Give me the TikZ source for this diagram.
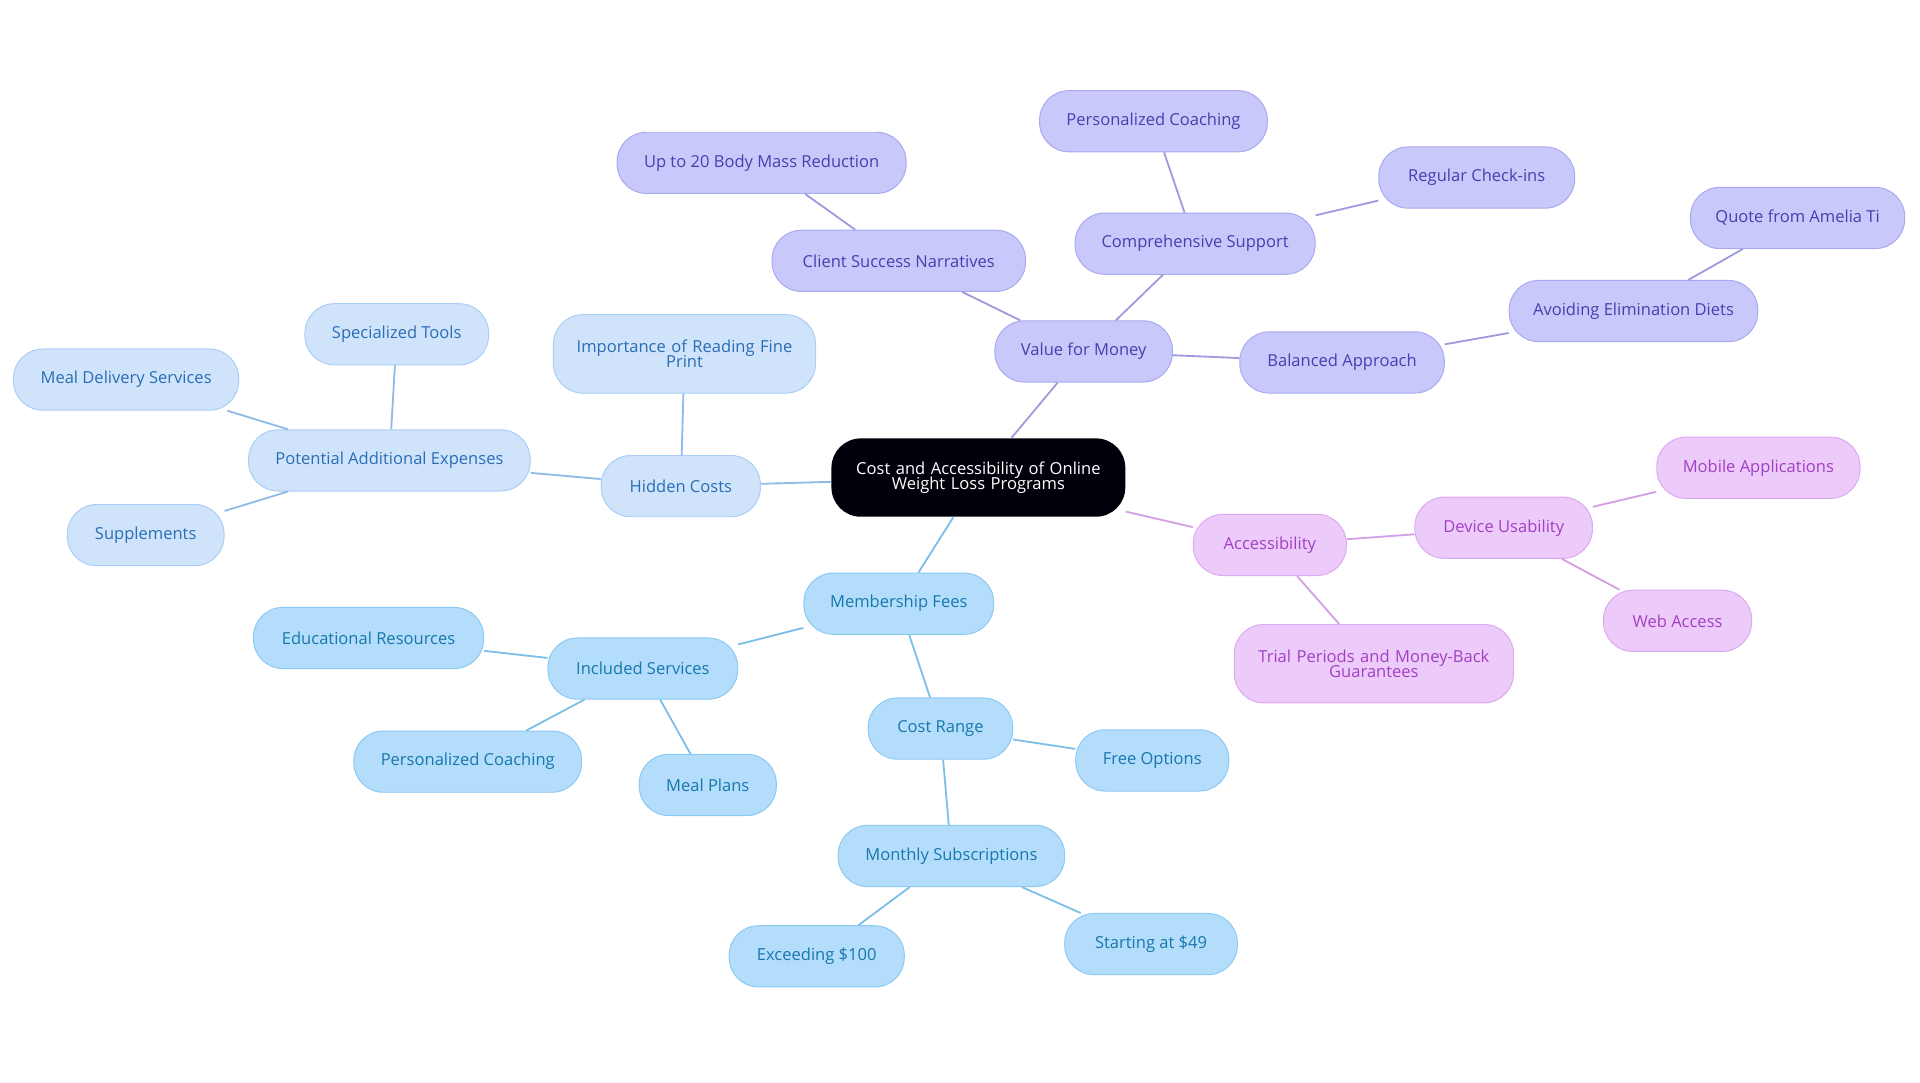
\documentclass[tikz,border=0pt]{standalone}
\usepackage{fontspec}
\setmainfont{Open Sans}
\begin{document}
\begin{tikzpicture}[x=1pt,y=-1pt,
 base/.style={rounded corners=24pt,minimum height=50pt,inner sep=0pt,align=center,font=\fontsize{13.5}{14}\selectfont,draw,line width=0.8pt},
 lb/.style={base,fill=lbF,draw=lbD,text=lbT},
 mb/.style={base,fill=mbF,draw=mbD,text=mbT},
 pu/.style={base,fill=puF,draw=puD,text=puT},
 pk/.style={base,fill=pkF,draw=pkD,text=pkT},
 elb/.style={draw=lbE,line width=1.5pt},
 emb/.style={draw=mbE,line width=1.5pt},
 epu/.style={draw=puE,line width=1.5pt},
 epk/.style={draw=pkE,line width=1.5pt}]
\definecolor{lbF}{HTML}{CFE4FB}\definecolor{lbD}{HTML}{A9CDF5}\definecolor{lbT}{HTML}{2A6DB5}\definecolor{lbE}{HTML}{8EBCE6}
\definecolor{mbF}{HTML}{B3DDFA}\definecolor{mbD}{HTML}{8CC9F3}\definecolor{mbT}{HTML}{1877AE}\definecolor{mbE}{HTML}{7DBFE6}
\definecolor{puF}{HTML}{C8C8FA}\definecolor{puD}{HTML}{A9A9F0}\definecolor{puT}{HTML}{4A3EAF}\definecolor{puE}{HTML}{A09ADF}
\definecolor{pkF}{HTML}{ECCBFA}\definecolor{pkD}{HTML}{DBA9F0}\definecolor{pkT}{HTML}{A33FC2}\definecolor{pkE}{HTML}{D3A0E6}
\useasboundingbox (0,0) rectangle (1568,884);
\node[base,fill=black!90!blue!40!black,draw=none,text=white,minimum width=240pt,minimum height=64pt,text width=220pt] (c) at (799,390) {Cost and Accessibility of Online\\[-2pt]Weight Loss Programs};
% hidden costs
\node[lb,minimum width=130pt] (hc) at (556,397) {Hidden Costs};
\node[lb,minimum width=214pt,minimum height=64pt,text width=200pt] (fp) at (559,289) {Importance of Reading Fine\\[-2pt]Print};
\node[lb,minimum width=230pt] (pa) at (318,376) {Potential Additional Expenses};
\node[lb,minimum width=150pt] (st) at (324,273) {Specialized Tools};
\node[lb,minimum width=184pt] (md) at (103,310) {Meal Delivery Services};
\node[lb,minimum width=128pt] (su) at (119,437) {Supplements};
% membership
\node[mb,minimum width=155pt] (mf) at (734,493) {Membership Fees};
\node[mb,minimum width=155pt] (is) at (525,546) {Included Services};
\node[mb,minimum width=188pt] (er) at (301,521) {Educational Resources};
\node[mb,minimum width=186pt] (pc) at (382,622) {Personalized Coaching};
\node[mb,minimum width=112pt] (mp) at (578,641) {Meal Plans};
\node[mb,minimum width=118pt] (cr) at (768,595) {Cost Range};
\node[mb,minimum width=125pt] (fo) at (941,621) {Free Options};
\node[mb,minimum width=185pt] (ms) at (777,699) {Monthly Subscriptions};
\node[mb,minimum width=143pt] (ex) at (667,781) {Exceeding \$100};
\node[mb,minimum width=141pt] (sa) at (940,771) {Starting at \$49};
% value
\node[pu,minimum width=145pt] (vm) at (885,287) {Value for Money};
\node[pu,minimum width=207pt] (cs) at (734,213) {Client Success Narratives};
\node[pu,minimum width=236pt] (ub) at (622,133) {Up to 20 Body Mass Reduction};
\node[pu,minimum width=196pt] (co) at (976,199) {Comprehensive Support};
\node[pu,minimum width=186pt] (pc2) at (942,99) {Personalized Coaching};
\node[pu,minimum width=160pt] (rc) at (1206,145) {Regular Check-ins};
\node[pu,minimum width=167pt] (ba) at (1096,296) {Balanced Approach};
\node[pu,minimum width=203pt] (ae) at (1334,254) {Avoiding Elimination Diets};
\node[pu,minimum width=175pt] (qa) at (1468,178) {Quote from Amelia Ti};
% access
\node[pk,minimum width=125pt] (ac) at (1037,445) {Accessibility};
\node[pk,minimum width=145pt] (du) at (1228,431) {Device Usability};
\node[pk,minimum width=166pt] (ma) at (1436,382) {Mobile Applications};
\node[pk,minimum width=121pt] (wa) at (1370,507) {Web Access};
\node[pk,minimum width=228pt,minimum height=64pt,text width=215pt] (tp) at (1122,542) {Trial Periods and Money-Back\\[-2pt]Guarantees};
\begin{scope}[on background layer/.try]
\end{scope}
\draw[elb] (c) -- (hc); \draw[elb] (hc) -- (fp); \draw[elb] (hc) -- (pa);
\draw[elb] (pa) -- (st); \draw[elb] (pa) -- (md); \draw[elb] (pa) -- (su);
\draw[emb] (c) -- (mf); \draw[emb] (mf) -- (is); \draw[emb] (is) -- (er); \draw[emb] (is) -- (pc); \draw[emb] (is) -- (mp);
\draw[emb] (mf) -- (cr); \draw[emb] (cr) -- (fo); \draw[emb] (cr) -- (ms); \draw[emb] (ms) -- (ex); \draw[emb] (ms) -- (sa);
\draw[epu] (c) -- (vm); \draw[epu] (vm) -- (cs); \draw[epu] (cs) -- (ub); \draw[epu] (vm) -- (co); \draw[epu] (co) -- (pc2); \draw[epu] (co) -- (rc);
\draw[epu] (vm) -- (ba); \draw[epu] (ba) -- (ae); \draw[epu] (ae) -- (qa);
\draw[epk] (c) -- (ac); \draw[epk] (ac) -- (du); \draw[epk] (du) -- (ma); \draw[epk] (du) -- (wa); \draw[epk] (ac) -- (tp);
\end{tikzpicture}
\end{document}
